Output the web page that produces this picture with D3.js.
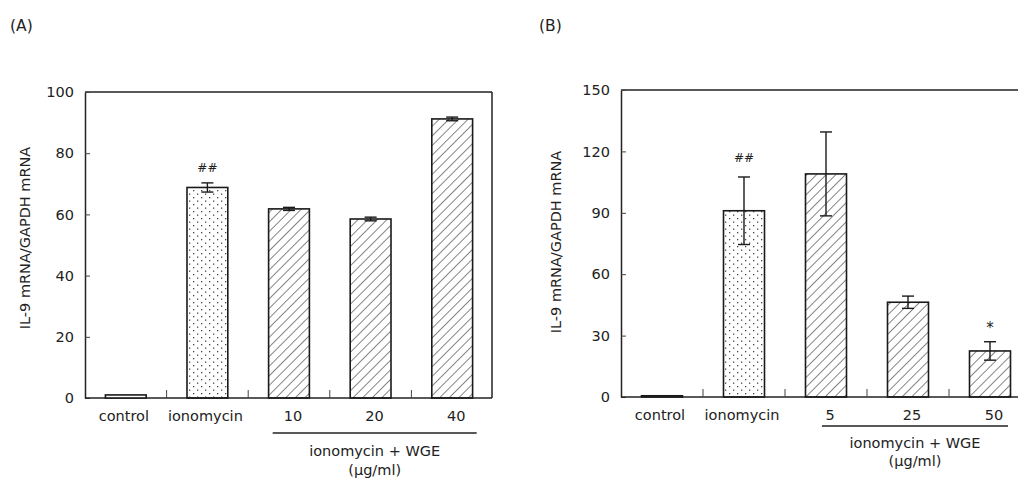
<!DOCTYPE html>
<html lang="en">
<head>
<meta charset="utf-8">
<title>IL-9 mRNA</title>
<script src="https://cdn.jsdelivr.net/npm/d3@7"></script>
<style>
  body { margin: 0; background: #fff; }
  text { font-family: "DejaVu Sans", "Liberation Sans", sans-serif; fill: #222; }
</style>
</head>
<body>
<svg id="chart" width="1018" height="478"></svg>
<script>
// categories / values
var catsA = ["control", "ionomycin", "10", "20", "40"];
var valsA = [1, 68.8, 61.8, 58.5, 91.2];
var errA  = [0, 1.5, 0.5, 0.6, 0.6];
var fillA = ["none", "dots", "hatch", "hatch", "hatch"];
var ticksA = [0, 20, 40, 60, 80, 100];

var catsB = ["control", "ionomycin", "5", "25", "50"];
var valsB = [0.6, 91, 109, 46.3, 22.5];
var errB  = [0, 16.5, 20.5, 3, 4.5];
var fillB = ["none", "dots", "hatch", "hatch", "hatch"];
var ticksB = [0, 30, 60, 90, 120, 150];

var yTitle = "IL-9 mRNA/GAPDH mRNA";

var svg = d3.select("#chart");
var defs = svg.append("defs");

// diagonal hatch
var hp = defs.append("pattern").attr("id", "hatch")
  .attr("patternUnits", "userSpaceOnUse").attr("width", 6.8).attr("height", 6.8)
  .attr("patternTransform", "rotate(45)");
hp.append("line").attr("x1", 0).attr("y1", 0).attr("x2", 0).attr("y2", 6.8)
  .attr("stroke", "#222").attr("stroke-width", 1.1);
// stipple
var dp = defs.append("pattern").attr("id", "dots")
  .attr("patternUnits", "userSpaceOnUse").attr("width", 8).attr("height", 7);
dp.append("rect").attr("x", 1).attr("y", 1).attr("width", 1.3).attr("height", 1.3).attr("fill", "#444");
dp.append("rect").attr("x", 5).attr("y", 4.5).attr("width", 1.3).attr("height", 1.3).attr("fill", "#444");

function panel(o) {
  var x = d3.scaleBand().domain(o.cats).range([o.left, o.left + 5 * o.bw]);
  var y = d3.scaleLinear().domain(o.dom).range([o.bottom, o.top]);
  var g = svg.append("g");
  var bw = x.bandwidth();
  var barW = bw * 0.5;

  g.append("text").attr("x", o.labX).attr("y", 31).attr("font-size", 15.5).text(o.label);

  // frame
  g.append("line").attr("x1", o.left).attr("x2", o.right).attr("y1", y(o.dom[1])).attr("y2", y(o.dom[1]))
    .attr("stroke", "#222").attr("stroke-width", 1.5);
  if (o.rightBorder) {
    g.append("line").attr("x1", o.right).attr("x2", o.right).attr("y1", y(o.dom[1])).attr("y2", y(0))
      .attr("stroke", "#222").attr("stroke-width", 1.5);
  }

  // y axis, ticks pointing inward
  var ya = g.append("g").attr("transform", "translate(" + o.left + ",0)")
    .call(d3.axisRight(y).tickValues(o.ticks).tickSize(5).tickSizeOuter(0));
  ya.select(".domain").attr("stroke", "#222").attr("stroke-width", 1.5);
  ya.selectAll(".tick line").attr("stroke", "#444");
  ya.selectAll(".tick text").attr("x", -11).attr("text-anchor", "end")
    .attr("font-size", 14.5).attr("font-family", "DejaVu Sans, sans-serif").attr("fill", "#222");

  // x baseline and separator ticks
  g.append("line").attr("x1", o.left).attr("x2", o.right).attr("y1", y(0)).attr("y2", y(0))
    .attr("stroke", "#222").attr("stroke-width", 1.5);
  g.selectAll(".sep").data(o.cats.slice(1)).enter().append("line")
    .attr("x1", function(d) { return x(d); }).attr("x2", function(d) { return x(d); })
    .attr("y1", y(0)).attr("y2", y(0) - 8).attr("stroke", "#444");

  // bars
  g.selectAll(".bar").data(o.vals).enter().append("rect")
    .attr("x", function(d, i) { return x(o.cats[i]) + (bw - barW) / 2; })
    .attr("y", function(d) { return y(d); })
    .attr("width", barW)
    .attr("height", function(d) { return y(0) - y(d); })
    .attr("fill", function(d, i) { return o.fills[i] == "none" ? "#fff" : "url(#" + o.fills[i] + ")"; })
    .attr("stroke", "#1a1a1a").attr("stroke-width", 1.6);

  // error bars
  o.vals.forEach(function(v, i) {
    if (!o.errs[i]) return;
    var cx = x(o.cats[i]) + bw / 2;
    var e = g.append("g").attr("stroke", "#1a1a1a").attr("stroke-width", 1.4);
    e.append("line").attr("x1", cx).attr("x2", cx).attr("y1", y(v + o.errs[i])).attr("y2", y(v - o.errs[i]));
    e.append("line").attr("x1", cx - 6).attr("x2", cx + 6).attr("y1", y(v + o.errs[i])).attr("y2", y(v + o.errs[i]));
    e.append("line").attr("x1", cx - 6).attr("x2", cx + 6).attr("y1", y(v - o.errs[i])).attr("y2", y(v - o.errs[i]));
  });

  // category labels
  g.selectAll(".cat").data(o.cats).enter().append("text")
    .attr("x", function(d, i) { return x(d) + bw / 2 + (i < 2 ? -2 : 4); })
    .attr("y", y(0) + 23).attr("text-anchor", "middle").attr("font-size", 14.5)
    .text(function(d) { return d; });

  // group bracket
  var bx1 = x(o.cats[2]) + o.br[0] * bw, bx2 = x(o.cats[4]) + o.br[1] * bw;
  g.append("line").attr("x1", bx1).attr("x2", bx2).attr("y1", o.brY).attr("y2", o.brY)
    .attr("stroke", "#222").attr("stroke-width", 1.4);
  var mid = (bx1 + bx2) / 2;
  g.append("text").attr("x", mid).attr("y", o.brY + o.brT[0]).attr("text-anchor", "middle")
    .attr("font-size", 14.5).text("ionomycin + WGE");
  g.append("text").attr("x", mid).attr("y", o.brY + o.brT[1]).attr("text-anchor", "middle")
    .attr("font-size", 14.5).text("(\u03bcg/ml)");

  // significance marks
  o.marks.forEach(function(m) {
    var i = o.cats.indexOf(m.cat);
    g.append("text").attr("x", x(m.cat) + bw / 2).attr("y", y(o.vals[i] + o.errs[i]) - m.dy)
      .attr("text-anchor", "middle").attr("font-size", m.size).attr("font-style", "italic").attr("fill", "#333").text(m.t);
  });

  // y title
  g.append("text").attr("transform", "translate(" + o.ytX + "," + o.ytY + ") rotate(-90)")
    .attr("text-anchor", "middle").attr("font-size", 14.5).text(yTitle);
}

panel({ label: "(A)", labX: 10, cats: catsA, vals: valsA, errs: errA, fills: fillA, ticks: ticksA,
  dom: [0, 100], left: 85, right: 492, bw: 81.6, top: 92, bottom: 398, rightBorder: true,
  br: [0.3, 0.8], brY: 433, brT: [23, 42], ytX: 30, ytY: 238,
  marks: [{ cat: "ionomycin", t: "##", dy: 11, size: 12 }] });

panel({ label: "(B)", labX: 539, cats: catsB, vals: valsB, errs: errB, fills: fillB, ticks: ticksB,
  dom: [0, 150], left: 621, right: 1018, bw: 82, top: 90, bottom: 397, rightBorder: false,
  br: [0.45, 0.72], brY: 426, brT: [22, 40], ytX: 561, ytY: 242,
  marks: [{ cat: "ionomycin", t: "##", dy: 15, size: 12 }, { cat: "50", t: "*", dy: 9, size: 15 }] });
</script>
</body>
</html>
